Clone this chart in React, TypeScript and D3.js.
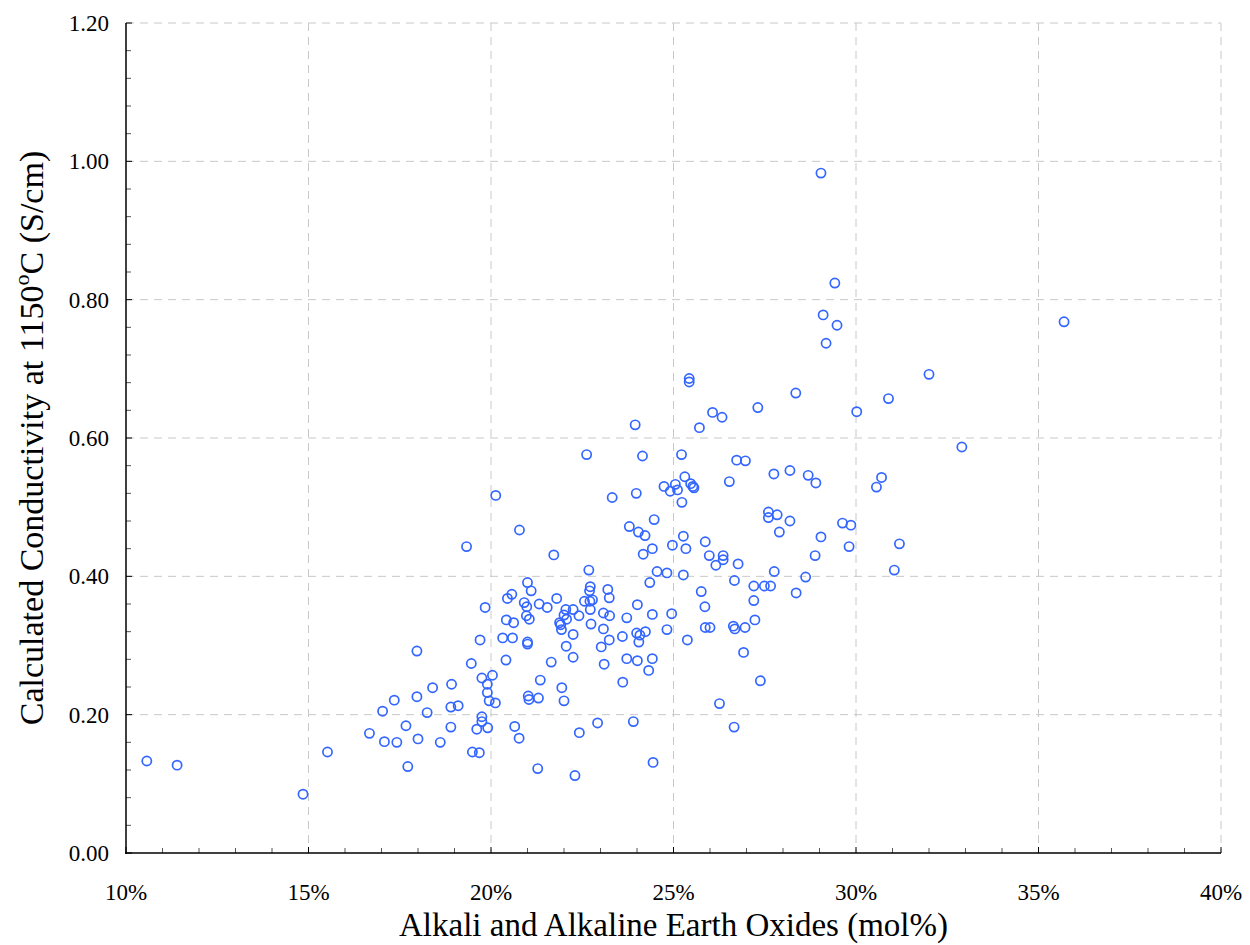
import React from 'react';
import * as d3 from 'd3';

// Total alkali + alkaline earth oxide content of each glass (mol%)
const oxideMolPct: number[] = [
  10.57, 11.40, 14.85, 15.52, 16.67, 17.03, 17.08, 17.35, 17.42, 17.67,
  17.72, 17.97, 17.97, 18.00, 18.25, 18.40, 18.61, 18.92, 18.90, 18.90,
  19.10, 19.33, 19.46, 19.49, 19.61, 19.68, 19.70, 19.75, 19.75, 19.75,
  19.84, 19.90, 19.90, 19.91, 19.95, 20.04, 20.12, 20.13, 20.32, 20.41,
  20.45, 20.42, 20.57, 20.59, 20.62, 20.65, 20.78, 20.77, 20.91, 20.98,
  21.00, 21.00, 21.00, 21.02, 21.04, 20.97, 21.10, 21.05, 21.28, 21.32,
  21.35, 21.30, 21.54, 21.65, 21.72, 21.80, 21.88, 21.93, 21.91, 21.94,
  22.00, 22.00, 22.05, 22.06, 22.07, 22.25, 22.25, 22.25, 22.30, 22.41,
  22.42, 22.56, 22.62, 22.68, 22.71, 22.72, 22.72, 22.70, 22.78, 22.74,
  22.92, 23.02, 23.08, 23.10, 23.08, 23.20, 23.24, 23.25, 23.24, 23.32,
  23.60, 23.61, 23.72, 23.72, 23.79, 23.90, 23.95, 23.98, 24.01, 23.99,
  24.01, 24.04, 24.05, 24.08, 24.15, 24.17, 24.22, 24.23, 24.32, 24.35,
  24.42, 24.42, 24.42, 24.44, 24.47, 24.55, 24.74, 24.82, 24.82, 24.91,
  24.95, 24.97, 25.05, 25.11, 25.23, 25.22, 25.27, 25.27, 25.31, 25.34,
  25.38, 25.43, 25.43, 25.47, 25.53, 25.56, 25.71, 25.76, 25.87, 25.86,
  25.87, 25.98, 26.00, 26.07, 26.16, 26.26, 26.33, 26.36, 26.36, 26.53,
  26.64, 26.68, 26.67, 26.66, 26.73, 26.77, 27.31, 26.92, 26.97, 26.96,
  27.20, 27.20, 27.23, 27.38, 27.49, 27.60, 27.60, 27.66, 27.75, 27.76,
  27.84, 27.90, 28.19, 28.19, 28.35, 28.36, 28.62, 28.69, 28.90, 28.88,
  29.04, 29.04, 29.10, 29.18, 29.42, 29.48, 29.63, 29.81, 29.86, 30.02,
  30.56, 30.70, 30.89, 31.05, 31.19, 32.00, 32.90, 35.70,
];

// Calculated electrical conductivity of the melt at 1150 °C (S/cm)
const conductivity: number[] = [
  0.133, 0.127, 0.085, 0.146, 0.173, 0.205, 0.161, 0.221, 0.160, 0.184,
  0.125, 0.292, 0.226, 0.165, 0.203, 0.239, 0.160, 0.244, 0.211, 0.182,
  0.213, 0.443, 0.274, 0.146, 0.179, 0.145, 0.308, 0.197, 0.190, 0.253,
  0.355, 0.244, 0.232, 0.181, 0.220, 0.257, 0.217, 0.517, 0.311, 0.279,
  0.368, 0.337, 0.374, 0.311, 0.333, 0.183, 0.467, 0.166, 0.362, 0.356,
  0.305, 0.302, 0.391, 0.227, 0.222, 0.343, 0.379, 0.338, 0.122, 0.360,
  0.250, 0.224, 0.355, 0.276, 0.431, 0.368, 0.333, 0.323, 0.330, 0.239,
  0.220, 0.344, 0.352, 0.299, 0.338, 0.352, 0.316, 0.283, 0.112, 0.343,
  0.174, 0.364, 0.576, 0.409, 0.364, 0.352, 0.385, 0.379, 0.366, 0.331,
  0.188, 0.298, 0.324, 0.273, 0.347, 0.381, 0.369, 0.343, 0.308, 0.514,
  0.313, 0.247, 0.340, 0.281, 0.472, 0.190, 0.619, 0.520, 0.359, 0.318,
  0.278, 0.464, 0.305, 0.315, 0.574, 0.432, 0.459, 0.320, 0.264, 0.391,
  0.440, 0.345, 0.281, 0.131, 0.482, 0.407, 0.530, 0.405, 0.323, 0.523,
  0.346, 0.445, 0.533, 0.525, 0.507, 0.576, 0.458, 0.402, 0.544, 0.440,
  0.308, 0.686, 0.681, 0.534, 0.530, 0.528, 0.615, 0.378, 0.450, 0.356,
  0.326, 0.430, 0.326, 0.637, 0.416, 0.216, 0.630, 0.430, 0.424, 0.537,
  0.328, 0.324, 0.394, 0.182, 0.568, 0.418, 0.644, 0.290, 0.567, 0.326,
  0.386, 0.365, 0.337, 0.249, 0.386, 0.493, 0.485, 0.386, 0.548, 0.407,
  0.489, 0.464, 0.553, 0.480, 0.665, 0.376, 0.399, 0.546, 0.535, 0.430,
  0.457, 0.983, 0.778, 0.737, 0.824, 0.763, 0.477, 0.443, 0.474, 0.638,
  0.529, 0.543, 0.657, 0.409, 0.447, 0.692, 0.587, 0.768,
];

const xMajorTicks = [10, 15, 20, 25, 30, 35, 40];
const xTickLabels = ['10%', '15%', '20%', '25%', '30%', '35%', '40%'];
const yMajorTicks = [0, 0.2, 0.4, 0.6, 0.8, 1.0, 1.2];
const yTickLabels = ['0.00', '0.20', '0.40', '0.60', '0.80', '1.00', '1.20'];

const WIDTH = 1250;
const HEIGHT = 945;
const LEFT = 126;
const RIGHT = 1221;
const TOP = 23;
const BOTTOM = 853;

const FONT = '"Liberation Serif", "Times New Roman", serif';
const MARK = '#3366ff';

export default function App() {
  const x = d3.scaleLinear().domain([10, 40]).range([LEFT, RIGHT]);
  const y = d3.scaleLinear().domain([0, 1.2]).range([BOTTOM, TOP]);

  const xMinor = d3.range(11, 40, 1).filter((v) => v % 5 !== 0);
  const yMinor = d3.range(0.04, 1.2, 0.04).filter((v) => Math.abs(v / 0.2 - Math.round(v / 0.2)) > 1e-6);

  const points = oxideMolPct.map((v, i) => ({ x: v, y: conductivity[i] }));

  return (
    <svg
      width={WIDTH}
      height={HEIGHT}
      style={{ position: 'absolute', left: 0, top: 0, background: '#fff' }}
      fontFamily={FONT}
    >
      <rect x={0} y={0} width={WIDTH} height={HEIGHT} fill="#fff" />

      {/* dashed grid */}
      <g stroke="#c8c8c8" strokeWidth={1} strokeDasharray="8,6" fill="none">
        {xMajorTicks.slice(1).map((t) => (
          <line key={'gx' + t} x1={x(t)} x2={x(t)} y1={TOP} y2={BOTTOM} />
        ))}
        {yMajorTicks.slice(1).map((t) => (
          <line key={'gy' + t} x1={LEFT} x2={RIGHT} y1={y(t)} y2={y(t)} />
        ))}
      </g>

      {/* minor ticks */}
      <g stroke="#555" strokeWidth={1}>
        {xMinor.map((t) => (
          <line key={'mx' + t} x1={x(t)} x2={x(t)} y1={BOTTOM} y2={BOTTOM - 5} />
        ))}
        {yMinor.map((t) => (
          <line key={'my' + t} x1={LEFT} x2={LEFT + 5} y1={y(t)} y2={y(t)} />
        ))}
      </g>
      <g stroke="#000" strokeWidth={1}>
        {xMajorTicks.map((t) => (
          <line key={'Mx' + t} x1={x(t)} x2={x(t)} y1={BOTTOM} y2={BOTTOM - 6} />
        ))}
        {yMajorTicks.map((t) => (
          <line key={'My' + t} x1={LEFT} x2={LEFT + 6} y1={y(t)} y2={y(t)} />
        ))}
      </g>

      {/* axis lines */}
      <line x1={LEFT} x2={LEFT} y1={TOP} y2={BOTTOM + 1} stroke="#000" strokeWidth={1.5} />
      <line x1={LEFT - 1} x2={RIGHT} y1={BOTTOM} y2={BOTTOM} stroke="#000" strokeWidth={1.5} />

      {/* tick labels */}
      <g fontSize={23} fill="#000">
        {xMajorTicks.map((t, i) => (
          <text key={'lx' + t} x={x(t)} y={BOTTOM + 47} textAnchor="middle">
            {xTickLabels[i]}
          </text>
        ))}
        {yMajorTicks.map((t, i) => (
          <text key={'ly' + t} x={LEFT - 17} y={y(t)} dy="0.35em" textAnchor="end">
            {yTickLabels[i]}
          </text>
        ))}
      </g>

      {/* axis titles */}
      <text x={(LEFT + RIGHT) / 2} y={936} textAnchor="middle" fontSize={33} fill="#000">
        Alkali and Alkaline Earth Oxides (mol%)
      </text>
      <text
        transform={`translate(43, ${(TOP + BOTTOM) / 2}) rotate(-90)`}
        textAnchor="middle"
        fontSize={34}
        fill="#000"
      >
        Calculated Conductivity at 1150
        <tspan fontSize={22} dy={-14}>o</tspan>
        <tspan dy={14}>C (S/cm)</tspan>
      </text>

      {/* data points */}
      <g fill="none" stroke={MARK} strokeWidth={1.7}>
        {points.map((p, i) => (
          <circle key={i} cx={x(p.x)} cy={y(p.y)} r={4.6} />
        ))}
      </g>
    </svg>
  );
}
